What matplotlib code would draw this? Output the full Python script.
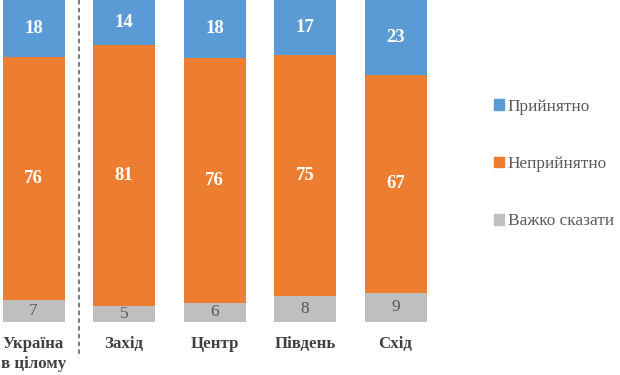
import matplotlib.pyplot as plt
import matplotlib.patches as mpatches
import matplotlib.transforms as mtransforms
import numpy as np

categories = ["Україна\nв цілому", "Захід", "Центр", "Південь", "Схід"]
hard_to_say = [7, 5, 6, 8, 9]
unacceptable = [76, 81, 76, 75, 67]
acceptable = [18, 14, 18, 17, 23]
series_names = ["Прийнятно", "Неприйнятно", "Важко сказати"]

blue = "#5B9BD5"
orange = "#ED7D31"
grey = "#BFBFBF"
text_dark = "#404040"

plt.rcParams['font.family'] = ['Liberation Serif', 'DejaVu Serif']

fig = plt.figure(figsize=(6.2, 3.75), dpi=100)
ax = fig.add_axes([0.004, 0.1413, 0.7097, 0.8587])

x = np.arange(len(categories))
g = np.array(hard_to_say, dtype=float)
o = np.array(unacceptable, dtype=float)
b = np.array(acceptable, dtype=float)
tot = g + o + b
# 100% stacked, like the original Excel chart
gp, op, bp = g / tot * 100, o / tot * 100, b / tot * 100

w = 0.685
ax.bar(x, gp, width=w, color=grey)
ax.bar(x, op, width=w, bottom=gp, color=orange)
ax.bar(x, bp, width=w, bottom=gp + op, color=blue)

for i in range(len(x)):
    ax.text(x[i], gp[i] / 2, str(hard_to_say[i]), ha='center', va='center',
            fontsize=12.5, color="#595959")
    ax.text(x[i], gp[i] + op[i] / 2, str(unacceptable[i]), ha='center', va='center',
            fontsize=13.5, color='white', fontweight='bold')
    ax.text(x[i], gp[i] + op[i] + bp[i] / 2, str(acceptable[i]), ha='center', va='center',
            fontsize=13.5, color='white', fontweight='bold')

ax.set_xlim(-0.343, -0.343 + 440 / 90.5)
ax.set_ylim(0, 100)
ax.set_xticks(x)
ax.set_xticklabels(categories, fontsize=12.2, fontweight='bold', color=text_dark,
                   linespacing=1.3)
ax.tick_params(axis='x', length=0, pad=10)
ax.set_yticks([])
for s in ax.spines.values():
    s.set_visible(False)

# dashed separator between Ukraine total and regions
trans = mtransforms.blended_transform_factory(ax.transData, ax.transAxes)
ax.plot([0.5, 0.5], [1.0, -0.105], transform=trans, color="#707070",
        linestyle=(0, (2.5, 1.8)), linewidth=1.3, clip_on=False)

handles = [mpatches.Patch(color=blue), mpatches.Patch(color=orange), mpatches.Patch(color=grey)]
fig.legend(handles, series_names, loc='upper left', bbox_to_anchor=(0.772, 0.778),
           frameon=False, fontsize=12.4, handlelength=0.55, handleheight=0.55,
           handletextpad=0.25, labelspacing=2.4, labelcolor="#595959")

fig.savefig("out.png", dpi=100)
